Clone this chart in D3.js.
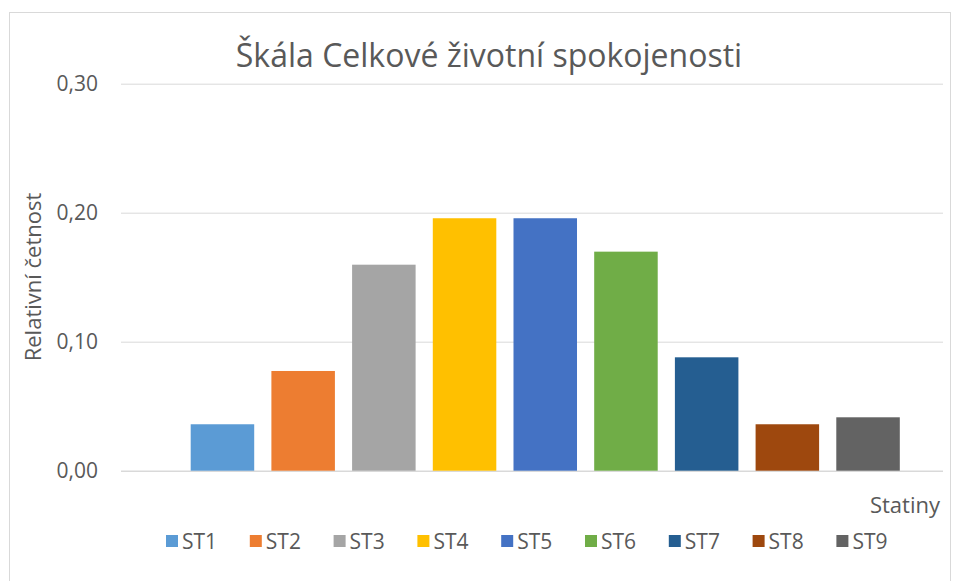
<!DOCTYPE html>
<html>
<head>
<meta charset="utf-8">
<script src="https://cdn.jsdelivr.net/npm/d3@7"></script>
<style>
  body { margin: 0; background: #fff; }
  text { font-family: "Open Sans", "Noto Sans", sans-serif; fill: #595959; }
</style>
</head>
<body>
<div class="chart"></div>
<script>
// values
const categories = ['ST1', 'ST2', 'ST3', 'ST4', 'ST5', 'ST6', 'ST7', 'ST8', 'ST9'];
const values = [0.036, 0.0773, 0.1597, 0.1957, 0.1957, 0.1698, 0.0879, 0.036, 0.0414];
const colors = ['#5B9BD5', '#ED7D31', '#A5A5A5', '#FFC000', '#4472C4', '#70AD47', '#255E91', '#9E480E', '#636363'];
const yTicks = [0, 0.1, 0.2, 0.3];

function renderChart() {
	const width = 957;
	const height = 581;
	const svg = d3.select('.chart')
				.append('svg')
				.attr('width', width)
				.attr('height', height);

	// chart border
	svg.append('rect')
		.attr('x', 9.5).attr('y', 12.5)
		.attr('width', 941).attr('height', 580)
		.attr('fill', 'none')
		.attr('stroke', '#D9D9D9');

	const y = d3.scaleLinear()
				.domain([0, 0.3])
				.range([470.7, 83.7]);
	const x = d3.scaleBand()
				.domain(categories)
				.range([182.1, 908.4])
				.paddingInner(0.213)
				.paddingOuter(0.1065);

	// gridlines + tick labels
	const yAxis = d3.axisLeft(y)
				.tickValues(yTicks)
				.tickSize(-(943 - 121))
				.tickPadding(23)
				.tickFormat(d => d3.format('.2f')(d).replace('.', ','));
	const g = svg.append('g')
				.attr('transform', 'translate(121,0)')
				.call(yAxis);
	g.select('.domain').remove();
	g.selectAll('.tick line')
		.attr('stroke', '#D9D9D9')
		.attr('stroke-width', d => d === 0 ? 1.5 : 1);
	g.selectAll('.tick text')
		.attr('font-size', '21px')
		.attr('fill', '#595959')
		.style('font-family', '"Open Sans", sans-serif');

	// bars
	svg.selectAll('rect.bar')
		.data(categories)
		.enter()
		.append('rect')
		.attr('class', 'bar')
		.attr('x', d => x(d))
		.attr('width', x.bandwidth())
		.attr('y', (d, i) => y(values[i]))
		.attr('height', (d, i) => y(0) - y(values[i]))
		.attr('fill', (d, i) => colors[i]);

	// title
	svg.append('text')
		.text('Škála Celkové životní spokojenosti')
		.attr('x', 489)
		.attr('y', 67)
		.attr('text-anchor', 'middle')
		.attr('font-size', '32px');

	// axis titles
	svg.append('text')
		.text('Relativní četnost')
		.attr('transform', 'translate(41,277) rotate(-90)')
		.attr('text-anchor', 'middle')
		.attr('font-size', '22px');

	svg.append('text')
		.text('Statiny')
		.attr('x', 940)
		.attr('y', 513)
		.attr('text-anchor', 'end')
		.attr('font-size', '22px');

	// legend
	const legend = svg.selectAll('g.legend')
		.data(categories)
		.enter()
		.append('g')
		.attr('class', 'legend')
		.attr('transform', (d, i) => `translate(${166 + i * 83.8},541)`);
	legend.append('rect')
		.attr('x', 0).attr('y', -6)
		.attr('width', 12).attr('height', 12)
		.attr('fill', (d, i) => colors[i]);
	legend.append('text')
		.text(d => d)
		.attr('x', 16)
		.attr('y', 8)
		.attr('font-size', '21px');
}

renderChart();
</script>
</body>
</html>
